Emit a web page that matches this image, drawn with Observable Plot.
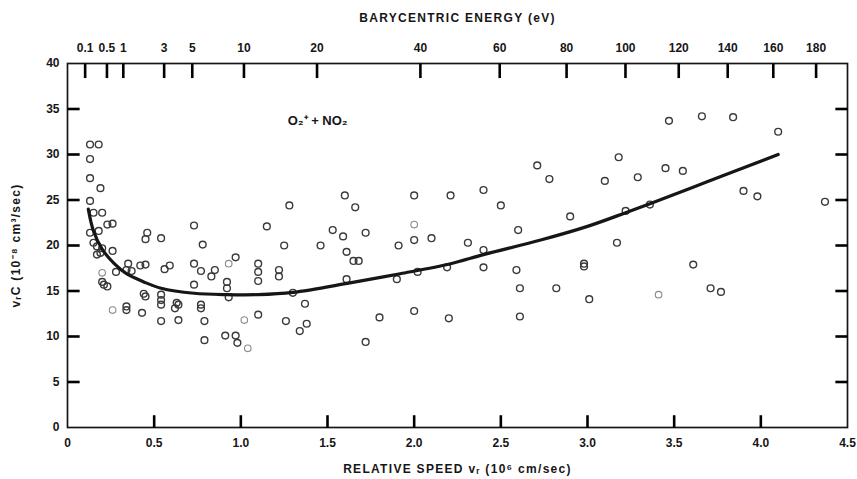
<!DOCTYPE html>
<html>
<head>
<meta charset="utf-8">
<script src="https://cdn.jsdelivr.net/npm/d3@7"></script>
<script src="https://cdn.jsdelivr.net/npm/@observablehq/plot@0.6"></script>
<style>
  body { margin: 0; background: #fff; }
  #chart svg { display: block; }
</style>
</head>
<body>
<div id="chart"></div>
<script>
// Measured rate coefficients: relative speed (10^6 cm/s) and vr·C (10^-8 cm^3/s)
const speeds = [
  0.13, 0.18, 0.13, 0.13, 0.19, 0.13, 0.15, 0.20, 0.23, 0.26,
  0.13, 0.18, 0.15, 0.17, 0.20, 0.19, 0.26, 0.17, 0.46, 0.45,
  0.54, 0.28, 0.35, 0.34, 0.37, 0.42, 0.45, 0.56, 0.59, 0.20,
  0.21, 0.23, 0.44, 0.45, 0.54, 0.54, 0.54, 0.54, 0.34, 0.34,
  0.43, 0.64, 0.62, 0.63, 0.64, 0.77, 0.77, 0.79, 0.79, 0.91,
  0.97, 0.98, 0.73, 0.78, 0.73, 0.77, 0.83, 0.85, 0.97, 1.10,
  1.10, 1.10, 0.73, 0.92, 0.92, 0.93, 1.10, 1.15, 1.28, 1.25,
  1.22, 1.22, 1.30, 1.37, 1.26, 1.38, 1.34, 1.60, 1.66, 1.53,
  1.59, 1.72, 1.46, 1.61, 1.65, 1.68, 1.61, 1.80, 1.72, 1.91,
  2.00, 2.00, 2.10, 1.90, 2.02, 2.00, 2.21, 2.40, 2.50, 2.31,
  2.40, 2.19, 2.40, 2.20, 2.60, 2.59, 2.61, 2.61, 2.71, 2.78,
  2.90, 3.18, 3.10, 3.29, 3.45, 3.55, 3.47, 3.66, 3.84, 4.10,
  3.22, 3.36, 3.90, 3.98, 4.37, 3.17, 2.98, 2.98, 3.61, 2.82,
  3.01, 3.71, 3.77
];
const rates = [
  31.1, 31.1, 29.5, 27.4, 26.3, 24.9, 23.6, 23.6, 22.3, 22.4,
  21.4, 21.6, 20.3, 19.9, 19.7, 19.2, 19.4, 19.0, 21.4, 20.7,
  20.8, 17.1, 18.0, 17.3, 17.2, 17.8, 17.9, 17.4, 17.8, 16.0,
  15.7, 15.5, 14.7, 14.4, 14.6, 14.0, 13.5, 11.7, 13.3, 12.9,
  12.6, 13.5, 13.1, 13.7, 11.8, 13.5, 13.1, 11.7, 9.6, 10.1,
  10.1, 9.3, 22.2, 20.1, 18.0, 17.2, 16.6, 17.3, 18.7, 18.0,
  17.1, 16.1, 15.7, 16.0, 15.3, 14.3, 12.4, 22.1, 24.4, 20.0,
  17.3, 16.6, 14.8, 13.6, 11.7, 11.4, 10.6, 25.5, 24.2, 21.7,
  21.0, 21.4, 20.0, 19.3, 18.3, 18.3, 16.3, 12.1, 9.4, 20.0,
  25.5, 20.6, 20.8, 16.3, 17.1, 12.8, 25.5, 26.1, 24.4, 20.3,
  19.5, 17.6, 17.6, 12.0, 21.7, 17.3, 15.3, 12.2, 28.8, 27.3,
  23.2, 29.7, 27.1, 27.5, 28.5, 28.2, 33.7, 34.2, 34.1, 32.5,
  23.8, 24.5, 26.0, 25.4, 24.8, 20.3, 18.0, 17.7, 17.9, 15.3,
  14.1, 15.3, 14.9
];
// Weaker, partly printed measurements
const faintSpeeds = [0.20, 0.26, 0.93, 1.02, 1.04, 2.00, 3.41];
const faintRates  = [17.0, 12.9, 18.0, 11.8, 8.7, 22.3, 14.6];

// Smooth fit drawn through the data
const fitSpeeds = [0.12, 0.15, 0.20, 0.27, 0.34, 0.44, 0.54, 0.73, 0.92, 1.10,
                   1.30, 1.63, 1.92, 2.21, 2.40, 2.73, 3.00, 3.22, 3.36, 3.69, 4.10];
const fitRates  = [24.0, 21.6, 19.6, 18.0, 16.9, 16.0, 15.3, 14.75, 14.6, 14.6,
                   14.85, 15.9, 16.9, 18.0, 19.0, 20.6, 22.1, 23.6, 24.6, 27.0, 30.0];

// Axis ticks
const speedTicks = [0, 0.5, 1.0, 1.5, 2.0, 2.5, 3.0, 3.5, 4.0, 4.5];
const speedTickLabels = ["0", "0.5", "1.0", "1.5", "2.0", "2.5", "3.0", "3.5", "4.0", "4.5"];
const rateTicks = [0, 5, 10, 15, 20, 25, 30, 35, 40];
const energyTicks = [0.1, 0.5, 1, 3, 5, 10, 20, 40, 60, 80, 100, 120, 140, 160, 180];
const energyTickLabels = ["0.1", "0.5", "1", "3", "5", "10", "20", "40", "60", "80",
                          "100", "120", "140", "160", "180"];

// Barycentric energy in eV for a relative speed v (10^6 cm/s): E = ½μv², μ ≈ 18.6 amu
const EV_PER_SPEED2 = 9.65;

const reactionLabel = "O₂⁺ + NO₂";
const reactionAt = {v: 1.27, rate: 33.7};

const points = speeds.map((v, i) => ({v, rate: rates[i]}));
const faintPoints = faintSpeeds.map((v, i) => ({v, rate: faintRates[i]}));
const fit = fitSpeeds.map((v, i) => ({v, rate: fitRates[i]}));
const energyPos = energyTicks.map(e => Math.sqrt(e / EV_PER_SPEED2));
const energyLabelOf = new Map(energyPos.map((v, i) => [v, energyTickLabels[i]]));
const speedLabelOf = new Map(speedTicks.map((v, i) => [v, speedTickLabels[i]]));

const ink = "#161616";
const xMax = 4.5, yMax = 40;

// Short inward ticks: lengths given in axis units (≈ 12–14 px)
const bottomTicks = speedTicks.slice(1, -1).map(v => ({v, lo: 0, hi: 1.35}));
const topTicks = energyPos.map(v => ({v, lo: yMax - 1.6, hi: yMax}));
const leftTicks = rateTicks.slice(1, -1).map(r => ({r, lo: 0, hi: 0.07}));
const rightTicks = rateTicks.slice(1, -1).map(r => ({r, lo: xMax - 0.07, hi: xMax}));

const tickStyle = {stroke: "black", strokeWidth: 2.6, strokeOpacity: 1};

const chart = Plot.plot({
  width: 857,
  height: 479,
  marginLeft: 67,
  marginRight: 10,
  marginTop: 63,
  marginBottom: 52,
  style: {
    fontFamily: "'Liberation Sans', Arial, sans-serif",
    fontSize: "12px",
    fontWeight: "bold",
    color: ink,
    background: "#fff"
  },
  x: {domain: [0, xMax]},
  y: {domain: [0, yMax]},
  marks: [
    Plot.frame({stroke: ink, strokeWidth: 1.7, fill: "none"}),
    Plot.link(bottomTicks, {x1: "v", x2: "v", y1: "lo", y2: "hi", ...tickStyle}),
    Plot.link(topTicks, {x1: "v", x2: "v", y1: "lo", y2: "hi", ...tickStyle}),
    Plot.link(leftTicks, {y1: "r", y2: "r", x1: "lo", x2: "hi", ...tickStyle}),
    Plot.link(rightTicks, {y1: "r", y2: "r", x1: "lo", x2: "hi", ...tickStyle}),
    // bottom: relative speed
    Plot.axisX(speedTicks, {
      anchor: "bottom", tickSize: 0, tickPadding: 11,
      tickFormat: d => speedLabelOf.get(d),
      label: "RELATIVE SPEED vᵣ (10⁶ cm/sec)", labelAnchor: "center", labelOffset: 45, labelArrow: "none"
    }),
    // top: barycentric energy
    Plot.axisX(energyPos, {
      anchor: "top", tickSize: 0, tickPadding: 12,
      tickFormat: d => energyLabelOf.get(d),
      label: "BARYCENTRIC ENERGY (eV)", labelAnchor: "center", labelOffset: 50, labelArrow: "none"
    }),
    // left: rate
    Plot.axisY(rateTicks, {
      anchor: "left", tickSize: 0, tickPadding: 8,
      label: "vᵣC (10⁻⁸ cm³/sec)", labelAnchor: "center", labelOffset: 56, labelArrow: "none"
    }),
    // measurements
    Plot.dot(faintPoints, {x: "v", y: "rate", r: 3.3, fill: "none", stroke: "#8a8a8a", strokeWidth: 1.1}),
    Plot.dot(points, {x: "v", y: "rate", r: 3.4, fill: "none", stroke: "#3a3a3a", strokeWidth: 1.4}),
    // fitted curve
    Plot.line(fit, {x: "v", y: "rate", curve: "catmull-rom", stroke: ink, strokeWidth: 3.2}),
    Plot.text([reactionAt], {x: "v", y: "rate", text: () => reactionLabel, textAnchor: "start", fontSize: 13, fontWeight: "bold"})
  ]
});

d3.select(chart).selectAll("[aria-label$='axis label'] text").style("letter-spacing", "1.3px");
document.getElementById("chart").append(chart);
</script>
</body>
</html>
